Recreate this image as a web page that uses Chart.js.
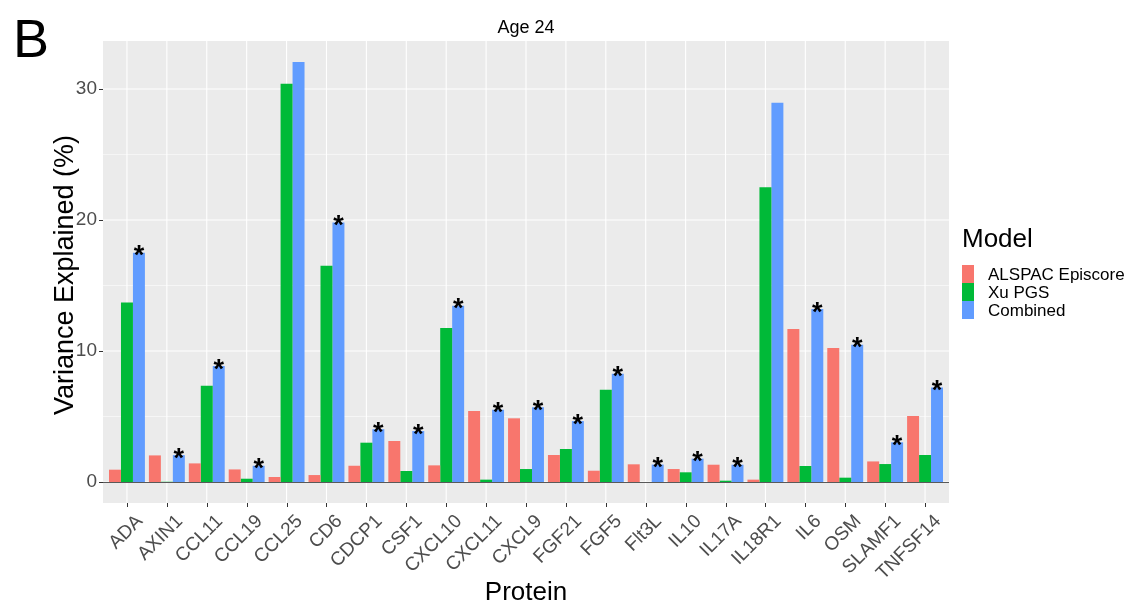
<!DOCTYPE html>
<html>
<head>
<meta charset="utf-8">
<script src="https://cdn.jsdelivr.net/npm/chart.js@4.4.0/dist/chart.umd.min.js"></script>
<style>
html, body { margin: 0; padding: 0; background: #fff; }
#wrap { width: 1143px; height: 603px; }
</style>
</head>
<body>
<div id="wrap"><canvas id="chart" width="1143" height="603"></canvas></div>
<script>
const proteins = ['ADA', 'AXIN1', 'CCL11', 'CCL19', 'CCL25', 'CD6', 'CDCP1', 'CSF1', 'CXCL10', 'CXCL11',
    'CXCL9', 'FGF21', 'FGF5', 'Flt3L', 'IL10', 'IL17A', 'IL18R1', 'IL6', 'OSM', 'SLAMF1', 'TNFSF14'];
const episcore = [0.94, 2.03, 1.42, 0.96, 0.38, 0.53, 1.24, 3.13, 1.27, 5.42,
    4.86, 2.06, 0.86, 1.35, 0.99, 1.32, 0.18, 11.68, 10.23, 1.57, 5.04];
const xuPgs = [13.7, 0.02, 7.35, 0.25, 30.4, 16.5, 3.0, 0.84, 11.75, 0.18,
    0.99, 2.52, 7.05, 0, 0.74, 0.1, 22.5, 1.22, 0.33, 1.37, 2.06];
const combined = [17.5, 2.05, 8.85, 1.24, 32.06, 19.8, 4.03, 3.89, 13.46, 5.52,
    5.7, 4.65, 8.27, 1.33, 1.78, 1.32, 28.95, 13.2, 10.48, 3.03, 7.22];
const significance = ['*', '*', '*', '*', '', '*', '*', '*', '*', '*',
    '*', '*', '*', '*', '*', '*', '', '*', '*', '*', '*'];
const yTicks = [0, 5, 10, 15, 20, 25, 30];
const modelNames = ['ALSPAC Episcore', 'Xu PGS', 'Combined'];

const FONT = '"Liberation Sans", Arial, sans-serif';
const COLORS = ['#F8766D', '#00BA38', '#619CFF'];

// ggplot-style panel, grid, ticks and all the annotation text
const ggPanel = {
    id: 'ggPanel',
    beforeDraw(chart) {
        const { ctx, scales: { x, y } } = chart;
        const step = x.getPixelForValue(1) - x.getPixelForValue(0);
        const left = x.getPixelForValue(0) - 0.6 * step;
        const right = x.getPixelForValue(proteins.length - 1) + 0.6 * step;
        ctx.save();
        ctx.fillStyle = '#fff';
        ctx.fillRect(0, 0, chart.width, chart.height);
        ctx.fillStyle = '#EBEBEB';
        ctx.fillRect(left, y.top, right - left, y.bottom - y.top);
        ctx.strokeStyle = '#fff';
        yTicks.forEach(v => {
            const py = y.getPixelForValue(v);
            ctx.lineWidth = v % 10 === 0 ? 1.1 : 0.55;
            ctx.beginPath(); ctx.moveTo(left, py); ctx.lineTo(right, py); ctx.stroke();
        });
        ctx.lineWidth = 1.1;
        proteins.forEach((_, i) => {
            const px = x.getPixelForValue(i);
            ctx.beginPath(); ctx.moveTo(px, y.top); ctx.lineTo(px, y.bottom); ctx.stroke();
        });
        // tick marks
        ctx.strokeStyle = '#333';
        ctx.lineWidth = 1;
        yTicks.filter(v => v % 10 === 0).forEach(v => {
            const py = Math.round(y.getPixelForValue(v)) + 0.5;
            ctx.beginPath(); ctx.moveTo(left - 4, py); ctx.lineTo(left, py); ctx.stroke();
        });
        proteins.forEach((_, i) => {
            const px = Math.round(x.getPixelForValue(i)) + 0.5;
            ctx.beginPath(); ctx.moveTo(px, y.bottom); ctx.lineTo(px, y.bottom + 4); ctx.stroke();
        });
        ctx.restore();
        chart._panel = { left, right };
    },
    afterDatasetsDraw(chart) {
        const { ctx, scales: { x, y } } = chart;
        const { left, right } = chart._panel;
        ctx.save();
        // zero line
        const py0 = Math.round(y.getPixelForValue(0)) + 0.5;
        ctx.strokeStyle = '#595959';
        ctx.lineWidth = 1;
        ctx.beginPath(); ctx.moveTo(left, py0); ctx.lineTo(right, py0); ctx.stroke();

        // significance stars on Combined bars
        const meta = chart.getDatasetMeta(2);
        ctx.fillStyle = '#000';
        ctx.font = 'bold 27px ' + FONT;
        ctx.textAlign = 'center';
        ctx.textBaseline = 'alphabetic';
        significance.forEach((s, i) => {
            if (!s) return;
            const bar = meta.data[i];
            ctx.fillText(s, bar.x, bar.y + 11.5);
        });

        // x tick labels, rotated 45
        ctx.fillStyle = '#4D4D4D';
        ctx.font = '19px ' + FONT;
        ctx.textAlign = 'right';
        proteins.forEach((p, i) => {
            ctx.save();
            ctx.translate(x.getPixelForValue(i) + 7, y.bottom + 9.5);
            ctx.rotate(-Math.PI / 4);
            ctx.fillText(p, 0, 13.6);
            ctx.restore();
        });

        // titles
        const mid = (left + right) / 2;
        ctx.fillStyle = '#000';
        ctx.textAlign = 'center';
        ctx.font = '18px ' + FONT;
        ctx.fillText('Age 24', mid, 33);
        ctx.font = '26px ' + FONT;
        ctx.fillText('Protein', mid, 600);
        ctx.save();
        ctx.translate(73, (y.top + y.bottom) / 2 + 3);
        ctx.rotate(-Math.PI / 2);
        ctx.font = '27px ' + FONT;
        ctx.fillText('Variance Explained (%)', 0, 0);
        ctx.restore();
        ctx.textAlign = 'left';
        ctx.font = '54px ' + FONT;
        ctx.fillText('B', 13, 57);

        // legend
        ctx.font = '26px ' + FONT;
        ctx.fillText('Model', 962, 247);
        ctx.font = '17px ' + FONT;
        chart.data.datasets.forEach((ds, i) => {
            const top = 265 + i * 18;
            ctx.fillStyle = ds.backgroundColor;
            ctx.fillRect(962, top, 12, 18);
            ctx.fillStyle = '#000';
            ctx.fillText(ds.label, 988, top + 15);
        });
        ctx.restore();
    }
};

function buildChart() {
    const ctx = document.getElementById('chart').getContext('2d');
    const series = [episcore, xuPgs, combined];
    new Chart(ctx, {
        type: 'bar',
        data: {
            labels: proteins,
            datasets: series.map((d, i) => ({
                label: modelNames[i],
                data: d,
                backgroundColor: COLORS[i],
                borderWidth: 0,
                categoryPercentage: 0.9,
                barPercentage: 1.0
            }))
        },
        options: {
            responsive: false,
            animation: false,
            devicePixelRatio: 1,
            layout: { padding: { top: 41, right: 198, bottom: 0, left: 0 } },
            plugins: { legend: { display: false }, title: { display: false }, tooltip: { enabled: false } },
            scales: {
                x: {
                    type: 'category',
                    offset: true,
                    grid: { display: false, drawTicks: false },
                    border: { display: false },
                    ticks: { display: false },
                    afterFit: (scale) => { scale.height = 100; }
                },
                y: {
                    min: -1.603,
                    max: 33.66,
                    grid: { display: false, drawTicks: false },
                    border: { display: false },
                    afterBuildTicks: (scale) => { scale.ticks = yTicks.map(v => ({ value: v })); },
                    ticks: {
                        color: '#4D4D4D',
                        font: { family: FONT, size: 19 },
                        padding: 10,
                        callback: (v) => (v % 10 === 0 ? v : '')
                    },
                    afterFit: (scale) => { scale.width = 107; }
                }
            }
        },
        plugins: [ggPanel]
    });
}

document.addEventListener('DOMContentLoaded', buildChart);
</script>
</body>
</html>
